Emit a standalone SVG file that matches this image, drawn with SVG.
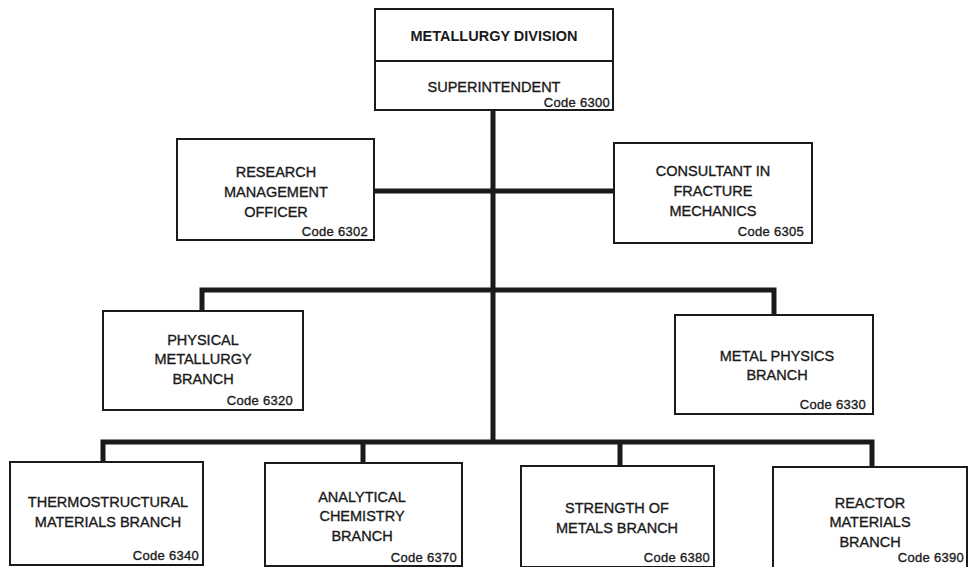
<svg xmlns="http://www.w3.org/2000/svg" width="969" height="567" viewBox="0 0 969 567">
<style>
.box{fill:#fff;stroke:#1a1a1a;stroke-width:2}
.t{font-family:"Liberation Sans",Arial,sans-serif;font-size:14.5px;fill:#1a1a1a;stroke:#1a1a1a;stroke-width:0.35;text-anchor:middle}
.b{font-weight:bold;stroke-width:0}
.c{font-family:"Liberation Sans",Arial,sans-serif;font-size:13px;fill:#1a1a1a;stroke:#1a1a1a;stroke-width:0.35;text-anchor:end;letter-spacing:0.3px}
.con{fill:none;stroke:#1a1a1a;stroke-width:5;stroke-linejoin:miter;stroke-linecap:butt}
</style>
<rect width="969" height="567" fill="#fff"/>
<g id="connectors">
<path class="con" d="M493 110 V443"/>
<path class="con" d="M374 191 H614"/>
<path class="con" d="M202 311 V290 H774 V315"/>
<path class="con" d="M103 462 V442 H872 V467"/>
<path class="con" d="M363 463 V442"/>
<path class="con" d="M620 466 V442"/>
</g>
<g id="metallurgy-division">
<rect class="box" x="375" y="9" width="238" height="101"/>
<line x1="375" y1="61" x2="613" y2="61" stroke="#1a1a1a" stroke-width="2"/>
<text class="t b" x="494" y="41" font-size="13.5">METALLURGY DIVISION</text>
<text class="t" x="494" y="92">SUPERINTENDENT</text>
<text class="c" x="610" y="107">Code 6300</text>
</g>
<g id="research-management-officer">
<rect class="box" x="177" y="139" width="197" height="101"/>
<text class="t" x="276" y="177">RESEARCH</text>
<text class="t" x="276" y="197">MANAGEMENT</text>
<text class="t" x="276" y="217">OFFICER</text>
<text class="c" x="368" y="236">Code 6302</text>
</g>
<g id="consultant-fracture-mechanics">
<rect class="box" x="614" y="143" width="198" height="100"/>
<text class="t" x="713" y="176">CONSULTANT IN</text>
<text class="t" x="713" y="196">FRACTURE</text>
<text class="t" x="713" y="216">MECHANICS</text>
<text class="c" x="804" y="236">Code 6305</text>
</g>
<g id="physical-metallurgy-branch">
<rect class="box" x="103" y="311" width="200" height="99"/>
<text class="t" x="203" y="345">PHYSICAL</text>
<text class="t" x="203" y="364">METALLURGY</text>
<text class="t" x="203" y="384">BRANCH</text>
<text class="c" x="293" y="405">Code 6320</text>
</g>
<g id="metal-physics-branch">
<rect class="box" x="675" y="315" width="198" height="99"/>
<text class="t" x="777" y="361">METAL PHYSICS</text>
<text class="t" x="777" y="380">BRANCH</text>
<text class="c" x="866" y="409">Code 6330</text>
</g>
<g id="thermostructural-materials-branch">
<rect class="box" x="10" y="462" width="193" height="103"/>
<text class="t" x="108" y="507">THERMOSTRUCTURAL</text>
<text class="t" x="108" y="527">MATERIALS BRANCH</text>
<text class="c" x="199" y="560">Code 6340</text>
</g>
<g id="analytical-chemistry-branch">
<rect class="box" x="265" y="463" width="197" height="103"/>
<text class="t" x="362" y="502">ANALYTICAL</text>
<text class="t" x="362" y="521">CHEMISTRY</text>
<text class="t" x="362" y="541">BRANCH</text>
<text class="c" x="457" y="562">Code 6370</text>
</g>
<g id="strength-of-metals-branch">
<rect class="box" x="521" y="466" width="193" height="101"/>
<text class="t" x="617" y="513">STRENGTH OF</text>
<text class="t" x="617" y="533">METALS BRANCH</text>
<text class="c" x="710" y="562">Code 6380</text>
</g>
<g id="reactor-materials-branch">
<rect class="box" x="773" y="467" width="194" height="101"/>
<text class="t" x="870" y="508">REACTOR</text>
<text class="t" x="870" y="527">MATERIALS</text>
<text class="t" x="870" y="547">BRANCH</text>
<text class="c" x="964" y="562">Code 6390</text>
</g>
</svg>
